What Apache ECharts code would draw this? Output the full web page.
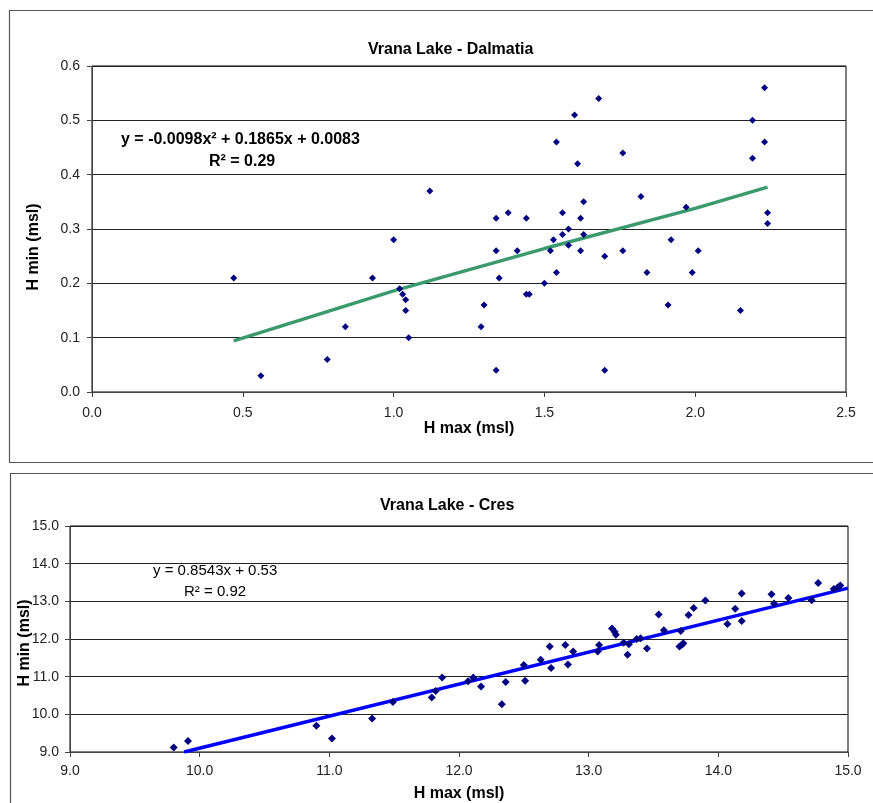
<!DOCTYPE html>
<html><head><meta charset="utf-8">
<script src="https://cdn.jsdelivr.net/npm/echarts@6/dist/echarts.min.js"></script>
<style>html,body{margin:0;padding:0;background:#fff}#c{width:873px;height:803px}</style>
</head><body><div id="c"></div>
<script>
// ---- Vrana Lake - Dalmatia ----
const dalmatiaHmax = [0.47,0.56,0.78,0.84,0.93,1.00,1.02,1.03,1.04,1.04,1.05,1.12,1.29,1.30,1.34,1.34,1.34,1.35,1.38,1.41,1.44,1.44,1.45,1.50,1.52,1.53,1.54,1.54,1.56,1.56,1.58,1.58,1.60,1.61,1.62,1.62,1.63,1.63,1.68,1.70,1.70,1.76,1.76,1.82,1.84,1.91,1.92,1.97,1.99,2.01,2.15,2.19,2.19,2.23,2.23,2.24,2.24];
const dalmatiaHmin = [0.21,0.03,0.06,0.12,0.21,0.28,0.19,0.18,0.17,0.15,0.10,0.37,0.12,0.16,0.04,0.26,0.32,0.21,0.33,0.26,0.32,0.18,0.18,0.20,0.26,0.28,0.22,0.46,0.29,0.33,0.30,0.27,0.51,0.42,0.32,0.26,0.35,0.29,0.54,0.25,0.04,0.44,0.26,0.36,0.22,0.16,0.28,0.34,0.22,0.26,0.15,0.50,0.43,0.56,0.46,0.33,0.31];
const dalmatiaTrendX = [0.47,1.0,1.5,2.0,2.24];
const dalmatiaTrendY = [0.094,0.186,0.264,0.338,0.377];
const dalmatiaEquation = 'y = -0.0098x² + 0.1865x + 0.0083';
const dalmatiaR2 = 'R² = 0.29';

// ---- Vrana Lake - Cres ----
const cresHmax = [9.80,9.91,10.90,11.02,11.33,11.49,11.79,11.82,11.87,12.07,12.11,12.17,12.33,12.36,12.50,12.51,12.63,12.70,12.71,12.82,12.84,12.88,13.07,13.08,13.18,13.20,13.21,13.27,13.30,13.31,13.37,13.40,13.45,13.54,13.58,13.70,13.72,13.73,13.71,13.77,13.81,13.90,14.07,14.13,14.18,14.18,14.41,14.43,14.54,14.72,14.77,14.89,14.92,14.94];
const cresHmin = [9.12,9.29,9.70,9.36,9.89,10.33,10.45,10.62,10.98,10.88,10.98,10.74,10.27,10.86,11.31,10.89,11.45,11.80,11.23,11.84,11.32,11.67,11.67,11.84,12.28,12.19,12.11,11.90,11.58,11.86,12.00,12.02,11.75,12.65,12.23,11.80,11.85,11.89,12.21,12.64,12.82,13.02,12.40,12.80,13.21,12.48,13.19,12.94,13.09,13.03,13.49,13.33,13.37,13.42];
const cresTrendX = [9.88,15.0];
const cresTrendY = [9.0,13.35];
const cresEquation = 'y = 0.8543x + 0.53';
const cresR2 = 'R² = 0.92';

const titles = ['Vrana Lake - Dalmatia','Vrana Lake - Cres'];
const xName = 'H max (msl)';
const yName = 'H min (msl)';

const FONT = '"Liberation Sans", Arial, sans-serif';
const zip = (a,b) => a.map((v,i)=>[v,b[i]]);
const fmt1 = v => v.toFixed(1);

const axisCommon = {
  axisLine:{show:true,onZero:false,lineStyle:{color:'#444',width:1}},
  axisTick:{show:true,inside:false,length:5,lineStyle:{color:'#444'}},
  axisLabel:{color:'#222',fontFamily:FONT,fontSize:14,formatter:fmt1},
};

const chart = echarts.init(document.getElementById('c'));
chart.setOption({
  backgroundColor:'#fff',
  animation:false,
  title:[
    {text:titles[0],left:368,top:42,padding:0,textStyle:{fontFamily:FONT,fontSize:16,fontWeight:'bold',color:'#000'}},
    {text:titles[1],left:380,top:498,padding:0,textStyle:{fontFamily:FONT,fontSize:16,fontWeight:'bold',color:'#000'}}
  ],
  grid:[
    {left:92,top:66,width:754,height:326,show:true,borderColor:'#000',borderWidth:1,backgroundColor:'transparent'},
    {left:70,top:526,width:778,height:226,show:true,borderColor:'#000',borderWidth:1,backgroundColor:'transparent'}
  ],
  xAxis:[
    Object.assign({},axisCommon,{gridIndex:0,type:'value',min:0,max:2.5,interval:0.5,
      axisLabel:Object.assign({},axisCommon.axisLabel,{margin:14}),
      splitLine:{show:false},
      name:xName,nameLocation:'middle',nameGap:24,
      nameTextStyle:{fontFamily:FONT,fontSize:16,fontWeight:'bold',color:'#000'}}),
    Object.assign({},axisCommon,{gridIndex:1,type:'value',min:9,max:15,interval:1,
      axisLabel:Object.assign({},axisCommon.axisLabel,{margin:12}),
      splitLine:{show:false},
      name:xName,nameLocation:'middle',nameGap:34,
      nameTextStyle:{fontFamily:FONT,fontSize:16,fontWeight:'bold',color:'#000'}})
  ],
  yAxis:[
    Object.assign({},axisCommon,{gridIndex:0,type:'value',min:0,max:0.6,interval:0.1,
      axisLabel:Object.assign({},axisCommon.axisLabel,{margin:12}),
      splitLine:{show:true,lineStyle:{color:'#222',width:1}}}),
    Object.assign({},axisCommon,{gridIndex:1,type:'value',min:9,max:15,interval:1,
      axisLabel:Object.assign({},axisCommon.axisLabel,{margin:11}),
      splitLine:{show:true,lineStyle:{color:'#222',width:1}}})
  ],
  series:[
    {type:'line',xAxisIndex:0,yAxisIndex:0,data:zip(dalmatiaTrendX,dalmatiaTrendY),
      showSymbol:false,symbol:'none',smooth:false,lineStyle:{color:'#3a9a6c',width:3.5},z:2},
    {type:'scatter',xAxisIndex:0,yAxisIndex:0,data:zip(dalmatiaHmax,dalmatiaHmin),
      symbol:'diamond',symbolSize:7,itemStyle:{color:'#000080',opacity:1},z:3},
    {type:'line',xAxisIndex:1,yAxisIndex:1,data:zip(cresTrendX,cresTrendY),
      showSymbol:false,symbol:'none',lineStyle:{color:'#0000ff',width:3.5},z:2},
    {type:'scatter',xAxisIndex:1,yAxisIndex:1,data:zip(cresHmax,cresHmin),
      symbol:'diamond',symbolSize:8,itemStyle:{color:'#000080',opacity:1},z:3}
  ],
  graphic:[
    {type:'rect',shape:{x:9.5,y:10.5,width:900,height:452},style:{fill:'none',stroke:'#555',lineWidth:1.2},z:-1,silent:true},
    {type:'rect',shape:{x:10.5,y:473.5,width:900,height:400},style:{fill:'none',stroke:'#555',lineWidth:1.2},z:-1,silent:true},
    {type:'text',x:34,y:247,rotation:Math.PI/2,style:{text:yName,font:'bold 16px '+FONT,fill:'#000',align:'center',verticalAlign:'middle'}},
    {type:'text',x:25,y:643,rotation:Math.PI/2,style:{text:yName,font:'bold 16px '+FONT,fill:'#000',align:'center',verticalAlign:'middle'}},
    {type:'text',x:121,y:140,style:{text:dalmatiaEquation,font:'bold 16px '+FONT,fill:'#000',align:'left',verticalAlign:'middle'},z:10},
    {type:'text',x:209,y:162,style:{text:dalmatiaR2,font:'bold 16px '+FONT,fill:'#000',align:'left',verticalAlign:'middle'},z:10},
    {type:'text',x:153,y:571,style:{text:cresEquation,font:'15px '+FONT,fill:'#000',align:'left',verticalAlign:'middle'},z:10},
    {type:'text',x:184,y:592,style:{text:cresR2,font:'15px '+FONT,fill:'#000',align:'left',verticalAlign:'middle'},z:10}
  ]
});
</script>
</body></html>
